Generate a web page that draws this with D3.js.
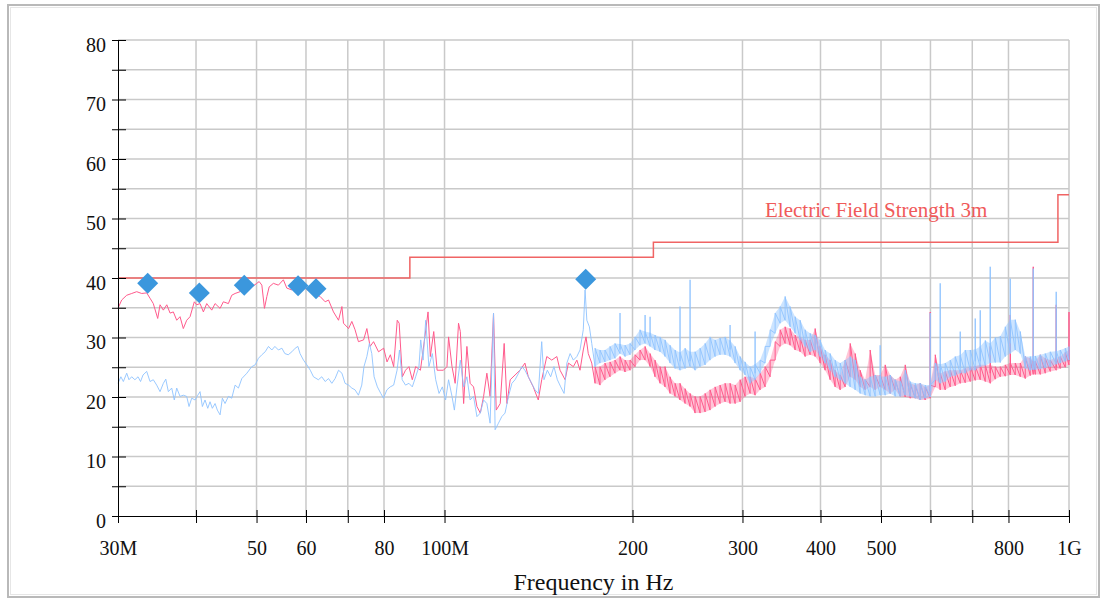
<!DOCTYPE html>
<html>
<head>
<meta charset="utf-8">
<script src="https://cdn.jsdelivr.net/npm/d3@7"></script>
<style>
  body { margin: 0; background: #fff; }
  svg { display: block; }
</style>
</head>
<body>
<svg id="chart" width="1101" height="600"></svg>
<script>
// frequency axis ticks (MHz) and the labels shown under them
const xTicks = [30, 40, 50, 60, 70, 80, 100, 200, 300, 400, 500, 600, 700, 800, 1000];
const xTickLabels = {30: "30M", 50: "50", 60: "60", 80: "80", 100: "100M", 200: "200",
  300: "300", 400: "400", 500: "500", 800: "800", 1000: "1G"};
const yTicks = [0, 5, 10, 15, 20, 25, 30, 35, 40, 45, 50, 55, 60, 65, 70, 75, 80];

// limit line, step after each frequency
const limitSteps = [[30, 40], [88, 43.5], [216, 46], [960, 54], [1000, 54]];
const limitLabel = "Electric Field Strength 3m";

// final measurement points
const markers = [[33.47, 39.1], [40.49, 37.5], [47.79, 38.8], [58.27, 38.7], [62.26, 38.2], [168.3, 39.8]];

// traces: [MHz, value] or, in the dense sweep region, [MHz, low, high]
const pinkTrace = [
  [30.0,34.9],[30.41,36.3],[30.98,37.1],[31.56,37.4],[32.14,37.7],[32.74,37.4],[33.35,37.5],[33.76,36.6],
  [34.17,35.7],[34.73,33.2],[35.03,35.5],[35.46,34.6],[35.91,35.5],[36.35,34.1],[36.79,34.3],[37.25,32.9],
  [37.71,33.5],[38.17,31.5],[38.65,32.9],[39.13,33.5],[39.75,36.0],[40.10,35.5],[40.60,35.7],[41.10,34.3],
  [41.61,35.7],[42.39,34.6],[42.91,35.7],[43.71,34.9],[44.24,36.0],[45.07,35.7],[45.63,37.1],[46.20,37.4],
  [47.06,37.7],[47.93,38.8],[49.13,38.5],[50.05,39.1],[50.49,39.4],[50.99,38.8],[51.48,34.9],[51.94,36.9],
  [52.38,38.5],[53.2,39.1],[54.2,38.8],[55.2,39.7],[55.9,38.3],[56.96,38.0],[57.86,38.6],[58.7,38.0],
  [59.6,38.5],[60.48,37.9],[61.38,37.8],[62.3,37.2],[63.2,36.9],[64.4,36.0],[65.2,36.3],[66.4,34.3],
  [67.65,32.9],[68.5,35.2],[68.9,32.4],[70.2,31.5],[71.05,32.7],[71.9,31.3],[72.8,29.3],[74.2,29.6],
  [75.1,31.5],[76.0,28.5],[76.97,29.3],[78.4,27.6],[79.9,28.2],[80.9,25.9],[81.9,27.1],[82.9,25.1],
  [84.0,32.9],[84.6,32.4],[85.6,23.4],[86.6,24.5],[87.7,25.1],[88.8,22.9],[89.9,25.1],[91.5,24.5],
  [92.8,29.3],[94.1,34.3],[94.9,26.8],[96.1,31.0],[97.3,24.5],[99.6,24.5],[100.9,25.1],[101.5,30.1],
  [102.8,25.1],[104.0,22.3],[105.3,32.4],[106.0,31.0],[107.3,18.9],[108.6,28.5],[109.9,22.3],[111.3,21.7],
  [112.7,18.4],[114.1,17.3],[115.5,20.1],[116.9,24.0],[118.3,20.1],[119.8,34.1],[121.0,17.8],[122.8,18.9],
  [124.6,29.0],[125.9,18.9],[127.4,22.9],[129.7,23.7],[132.1,24.5],[134.5,25.7],[136.2,23.4],[138.7,21.7],
  [141.3,19.5],[143.1,22.9],[145.8,26.8],[148.5,26.2],[151.3,26.8],[153.1,24.5],[156.0,22.9],[157.9,25.7],
  [160.8,25.1],[162.9,26.2],[164.8,24.5],[166.8,27.9],[168.5,30.1],[169.9,27.3],[172.1,25.7],
  [174.2,22.3,25.1],[177.4,22.0,25.1],[180.7,22.9,25.7],[184.1,23.4,25.9],[187.5,24.0,26.2],[191.0,24.5,26.8],
  [194.6,24.2,26.2],[198.2,24.5,26.2],[201.9,25.1,27.1],[205.6,26.2,27.9],[209.5,26.2,28.5],[213.4,25.1,27.3],
  [217.3,23.4,26.2],[221.4,22.3,25.1],[225.5,21.7,25.1],[229.7,20.6,23.4],[234.0,20.1,22.3],[238.3,19.5,22.3],
  [242.8,18.9,21.4],[247.3,18.4,20.6],[251.9,17.3,20.1],[256.6,17.3,20.1],[261.4,17.5,20.6],[266.2,17.8,21.2],
  [271.2,18.4,21.7],[276.2,18.9,22.0],[281.4,19.2,22.3],[286.6,18.9,22.3],[292.0,18.9,22.0],[297.4,19.2,22.9],
  [302.9,20.1,23.4],[308.6,20.6,23.4],[314.3,20.3,23.1],[320.2,21.2,24.0],[326.1,21.7,25.1],[332.2,23.4,26.2],
  [338.4,26.2,29.3],[344.7,28.5,31.3],[351.1,29.0,31.8],[357.6,28.7,31.5],[364.3,27.9,30.4],[371.1,27.6,30.1],
  [378.0,26.8,29.6],[385.0,27.1,29.6],[392.2,26.8,31.5],[399.5,25.7,28.5],[406.9,24.5,27.1],[414.5,22.9,26.2],
  [422.2,21.7,24.5],[430.1,21.2,23.7],[438.1,21.7,26.2],[446.3,23.4,29.0],[454.6,22.9,27.3],[463.0,21.7,24.5],
  [471.7,21.2,22.9],[480.4,21.7,27.9],[489.4,21.2,23.7],[498.5,21.7,23.7],[507.8,21.2,25.4],[517.2,20.6,23.7],
  [526.9,21.2,22.9],[536.7,20.1,23.4],[546.7,20.0,25.4],[556.8,19.8,22.3],[567.2,19.8,22.0],[577.8,19.5,22.3],
  [588.5,19.5,21.7],[599.5,19.8,22.0],[610.7,21.7,27.1],[622.0,21.2,24.0],[633.6,21.2,24.3],[645.4,21.7,24.5],
  [657.4,21.9,24.5],[669.7,22.3,24.5],[682.1,22.4,24.8],[694.8,22.6,25.1],[707.8,22.8,25.2],[720.9,22.9,25.4],
  [734.4,22.6,25.4],[748.0,22.3,25.4],[762.0,23.0,25.1],[776.2,23.4,25.1],[790.6,23.5,25.4],[805.3,23.7,25.7],
  [820.3,23.7,25.7],[835.6,23.4,25.7],[851.1,23.1,26.8],[866.9,23.6,26.5],[876.6,23.8,26.0],[883.1,23.8,26.0],
  [899.5,23.8,27.1],[916.2,24.0,26.5],[933.3,24.3,26.2],[954.0,24.5,26.6],[968.3,24.8,26.8],[986.4,25.0,27.5],
  [1000,25.4,27.9]
];
// narrow emissions standing out of the sweep: [MHz, base, peak]
const pinkSpikes = [[599.5, 21, 34.3], [748.0, 24, 28.5], [805.3, 24, 33.8], [876.6, 25, 41.9],
  [954.0, 25, 35.5], [1000, 26, 34.3]];

const blueTrace = [
  [30.0,22.3],[30.32,23.4],[30.6,22.6],[30.98,24.0],[31.24,22.9],[31.55,23.4],[31.93,22.9],[32.3,23.4],
  [32.6,22.6],[32.9,23.7],[33.35,24.3],[33.76,22.6],[34.17,22.9],[34.6,22.0],[35.03,20.9],[35.46,22.3],
  [35.78,23.0],[36.12,20.9],[36.57,21.5],[36.92,19.5],[37.25,21.5],[37.71,20.1],[38.17,20.3],[38.65,20.1],
  [38.98,18.4],[39.37,19.8],[39.86,19.5],[40.26,20.3],[40.6,20.9],[40.95,18.4],[41.35,19.5],[41.77,18.1],
  [42.12,19.2],[42.48,18.1],[42.91,18.9],[43.27,17.8],[43.71,17.0],[44.08,19.8],[44.52,18.9],[45.07,20.1],
  [45.63,19.8],[46.2,22.0],[46.77,21.5],[47.36,23.1],[48.25,24.0],[49.13,25.1],[49.74,25.4],[50.35,26.5],
  [50.99,27.1],[51.62,27.6],[52.25,28.5],[52.9,27.9],[53.5,28.5],[54.2,27.9],[54.9,28.2],[55.5,27.3],
  [56.2,27.1],[56.96,27.6],[57.66,28.2],[58.23,28.5],[58.7,27.3],[59.45,26.2],[60.2,25.4],[60.96,24.5],
  [61.68,23.4],[62.8,22.9],[63.6,23.4],[64.4,22.6],[65.2,23.1],[66.0,22.3],[66.8,23.1],[67.65,24.5],
  [68.5,24.0],[69.3,22.3],[70.2,22.0],[71.05,21.5],[71.9,21.2],[72.8,20.3],[73.7,22.0],[74.3,25.1],
  [75.1,26.8],[75.8,29.0],[76.47,27.3],[77.13,23.4],[78.07,21.7],[79.05,20.6],[79.85,19.8],[80.85,21.2],
  [81.85,21.7],[82.9,22.0],[83.95,24.5],[84.7,27.9],[85.55,22.9],[86.6,22.0],[87.7,22.3],[88.8,21.7],
  [89.9,23.4],[91.0,25.1],[91.6,29.6],[92.4,26.2],[93.3,32.9],[94.4,25.1],[95.6,27.3],[96.8,22.9],
  [98.0,20.6],[99.2,21.7],[100.4,19.5],[101.5,22.9],[102.8,20.1],[103.7,17.8],[104.7,21.7],[106.0,26.2],
  [107.3,21.7],[108.6,23.4],[109.9,19.5],[111.3,20.1],[112.7,16.7],[114.1,17.3],[115.5,19.5],[116.9,18.9],
  [118.3,15.6],[119.8,34.1],[120.5,14.5],[122.0,15.6],[123.5,16.7],[125.0,17.3],[126.6,20.1],[128.2,22.3],
  [129.7,22.9],[131.4,24.0],[133.0,25.1],[134.5,24.5],[136.2,23.4],[137.9,22.3],[139.6,21.2],[141.3,20.6],
  [143.1,29.3],[144.3,22.9],[146.1,24.5],[147.9,23.4],[149.7,25.1],[151.6,22.9],[153.5,21.7],[155.4,20.6],
  [157.0,25.7],[158.9,27.3],[160.8,26.2],[162.9,26.8],[164.8,27.9],[166.8,31.3],[167.9,38.0],[169.0,32.9],
  [170.6,31.8],[172.1,29.0],
  [174.2,25.1,28.2],[177.4,25.7,27.9],[180.7,25.9,27.9],[184.1,26.2,28.5],[187.5,26.5,29.0],[191.0,27.3,28.9],
  [194.6,26.8,28.7],[198.2,27.1,29.0],[201.9,27.9,30.1],[205.6,28.7,31.3],[209.5,29.0,31.0],[213.4,28.5,30.8],
  [217.3,27.9,30.4],[221.4,27.6,30.1],[225.5,26.8,29.6],[229.7,25.7,28.7],[234.0,24.8,27.9],[238.3,24.5,27.5],
  [242.8,24.8,28.2],[247.3,25.1,27.6],[251.9,24.5,27.6],[256.6,25.1,28.2],[261.4,25.4,29.0],[266.2,26.2,30.1],
  [271.2,26.8,29.6],[276.2,27.1,29.9],[281.4,27.1,30.1],[286.6,26.8,29.5],[292.0,25.7,28.5],[297.4,24.5,26.8],
  [302.9,23.7,25.9],[308.6,22.3,25.1],[314.3,22.9,25.5],[320.2,24.0,26.2],[326.1,25.7,28.5],[332.2,28.5,31.3],
  [338.4,30.7,34.1],[344.7,32.4,35.2],[351.1,32.9,36.9],[357.6,31.8,35.2],[364.3,30.7,33.5],[371.1,29.6,32.9],
  [378.0,28.5,31.3],[385.0,27.6,30.7],[392.2,27.9,30.4],[399.5,26.8,29.6],[406.9,25.7,27.9],[414.5,24.5,27.3],
  [422.2,23.4,26.2],[430.1,22.9,25.7],[438.1,22.3,26.2],[446.3,21.7,26.8],[454.6,21.2,26.2],[463.0,20.6,23.4],
  [471.7,20.3,22.9],[480.4,20.1,23.4],[489.4,20.1,23.7],[498.5,20.3,23.5],[507.8,20.3,23.4],[517.2,20.6,23.7],
  [526.9,20.1,22.9],[536.7,20.1,22.6],[546.7,20.3,24.5],[556.8,20.1,22.6],[567.2,19.8,22.3],[577.8,19.5,22.3],
  [588.5,19.8,22.0],[599.5,20.0,22.0],[610.7,22.9,25.7],[622.0,22.3,25.5],[633.6,22.6,25.7],[645.4,23.4,26.2],
  [657.4,23.6,26.8],[669.7,24.0,27.0],[682.1,24.0,27.9],[694.8,24.5,27.9],[707.8,24.5,28.0],[720.9,25.1,28.5],
  [734.4,25.3,29.5],[748.0,25.7,29.0],[762.0,25.8,30.0],[776.2,25.8,30.2],[790.6,26.8,31.8],[805.3,27.3,33.0],
  [820.3,27.9,33.0],[835.6,27.3,31.0],[851.1,24.8,26.8],[866.9,24.5,26.8],[876.6,24.6,26.9],[883.1,24.6,26.9],
  [899.5,24.7,27.1],[916.2,24.9,27.3],[933.3,25.1,27.6],[954.0,25.5,27.7],[968.3,25.7,27.9],[986.4,26.0,28.2],
  [1000,26.2,28.5]
];
const blueSpikes = [[191.0, 28, 34.1], [209.5, 30, 33.8], [213.4, 30, 33.5], [238.3, 26, 35.2],
  [247.3, 26, 39.7], [286.6, 28, 32.1], [314.3, 24, 31.0], [498.5, 22, 28.7], [599.5, 21, 34.1],
  [622.0, 24, 39.1], [669.7, 25, 31.0], [707.8, 26, 33.2], [720.9, 26, 34.6], [748.0, 27, 41.9],
  [805.3, 29, 39.9], [876.6, 26, 41.6], [954.0, 26, 37.7]];

const serif = "'Liberation Serif', 'Times New Roman', serif";
const svg = d3.select("#chart");

const x = d3.scaleLog().domain([30, 1000]).range([118, 1069]);
const y = d3.scaleLinear().domain([0, 80]).range([516, 40]);

// outer frame
svg.append("rect").attr("x", 8).attr("y", 5).attr("width", 1091).attr("height", 592)
  .attr("fill", "none").attr("stroke", "#b9b9b9").attr("stroke-width", 2);
svg.append("rect").attr("x", 10.5).attr("y", 7.5).attr("width", 1086).attr("height", 587)
  .attr("fill", "none").attr("stroke", "#e6e6e6").attr("stroke-width", 1);

// grid
const grid = svg.append("g").attr("stroke", "#c9c9c9").attr("stroke-width", 1.5);
grid.selectAll(".gx").data(xTicks.filter(d => d > 30)).enter().append("line")
  .attr("x1", d => x(d)).attr("x2", d => x(d)).attr("y1", y(0)).attr("y2", y(80));
grid.selectAll(".gy").data(yTicks.filter(d => d > 0)).enter().append("line")
  .attr("x1", x(30)).attr("x2", x(1000)).attr("y1", d => y(d)).attr("y2", d => y(d));

// expand [f, lo, hi] entries into a zigzag so the sweep looks hatched
function tracePoints(trace) {
  const pts = [];
  trace.forEach(d => {
    pts.push([d[0], d[1]]);
    if (d.length > 2) pts.push([d[0], d[2]]);
  });
  return pts;
}

const line = d3.line().x(d => x(d[0])).y(d => y(d[1]));
const band = d3.area().x(d => x(d[0])).y0(d => y(d[1])).y1(d => y(d[2]));

function drawTrace(trace, spikes, color, bandOpacity, lineOpacity) {
  const g = svg.append("g");
  g.append("path").datum(trace.filter(d => d.length > 2))
    .attr("d", band).attr("fill", color).attr("fill-opacity", bandOpacity);
  g.append("path").datum(tracePoints(trace))
    .attr("d", line).attr("fill", "none")
    .attr("stroke", color).attr("stroke-opacity", lineOpacity).attr("stroke-width", 1);
  g.selectAll(".spike").data(spikes).enter().append("line")
    .attr("x1", d => x(d[0])).attr("x2", d => x(d[0]))
    .attr("y1", d => y(d[1])).attr("y2", d => y(d[2]))
    .attr("stroke", color).attr("stroke-opacity", lineOpacity).attr("stroke-width", 1.5);
}

drawTrace(pinkTrace, pinkSpikes, "#ff5a8c", 0.35, 1);
drawTrace(blueTrace, blueSpikes, "#8fc3ff", 0.45, 0.9);

// limit
svg.append("path").datum(limitSteps)
  .attr("d", d3.line().curve(d3.curveStepAfter).x(d => x(d[0])).y(d => y(d[1])))
  .attr("fill", "none").attr("stroke", "#f06464").attr("stroke-width", 1.5);

svg.append("text")
  .attr("x", x(326)).attr("y", y(50.2))
  .attr("font-family", serif).attr("font-size", 21)
  .attr("fill", "#f05a5a")
  .text(limitLabel);

// markers
svg.selectAll(".marker").data(markers).enter().append("path")
  .attr("class", "marker")
  .attr("d", d3.symbol(d3.symbolSquare, 220))
  .attr("transform", d => `translate(${x(d[0])},${y(d[1])}) rotate(45)`)
  .attr("fill", "#3b97dd");

// axes
const xAxis = svg.append("g")
  .attr("transform", `translate(0,${y(0)})`)
  .call(d3.axisBottom(x).tickValues(xTicks).tickSize(7).tickSizeOuter(0)
    .tickFormat(d => xTickLabels[d] || ""));
xAxis.selectAll(".tick line").attr("y1", -6);
xAxis.selectAll(".tick text").attr("y", 39).attr("dy", null);

const yAxis = svg.append("g")
  .attr("transform", `translate(${x(30)},0)`)
  .call(d3.axisLeft(y).tickValues(yTicks).tickSize(6).tickSizeOuter(0)
    .tickFormat(d => d % 10 === 0 ? d : ""));
yAxis.selectAll(".tick line").attr("x1", 8);
yAxis.selectAll(".tick text").attr("x", -12).attr("y", 11).attr("dy", null);

[xAxis, yAxis].forEach(a => {
  a.attr("font-family", serif).attr("font-size", 20);
  a.selectAll("text").attr("fill", "#111");
  a.selectAll("line, path").attr("stroke", "#000");
});

svg.append("text")
  .attr("x", (x(30) + x(1000)) / 2).attr("y", 590)
  .attr("text-anchor", "middle")
  .attr("font-family", serif).attr("font-size", 24)
  .attr("fill", "#111")
  .text("Frequency in Hz");
</script>
</body>
</html>
